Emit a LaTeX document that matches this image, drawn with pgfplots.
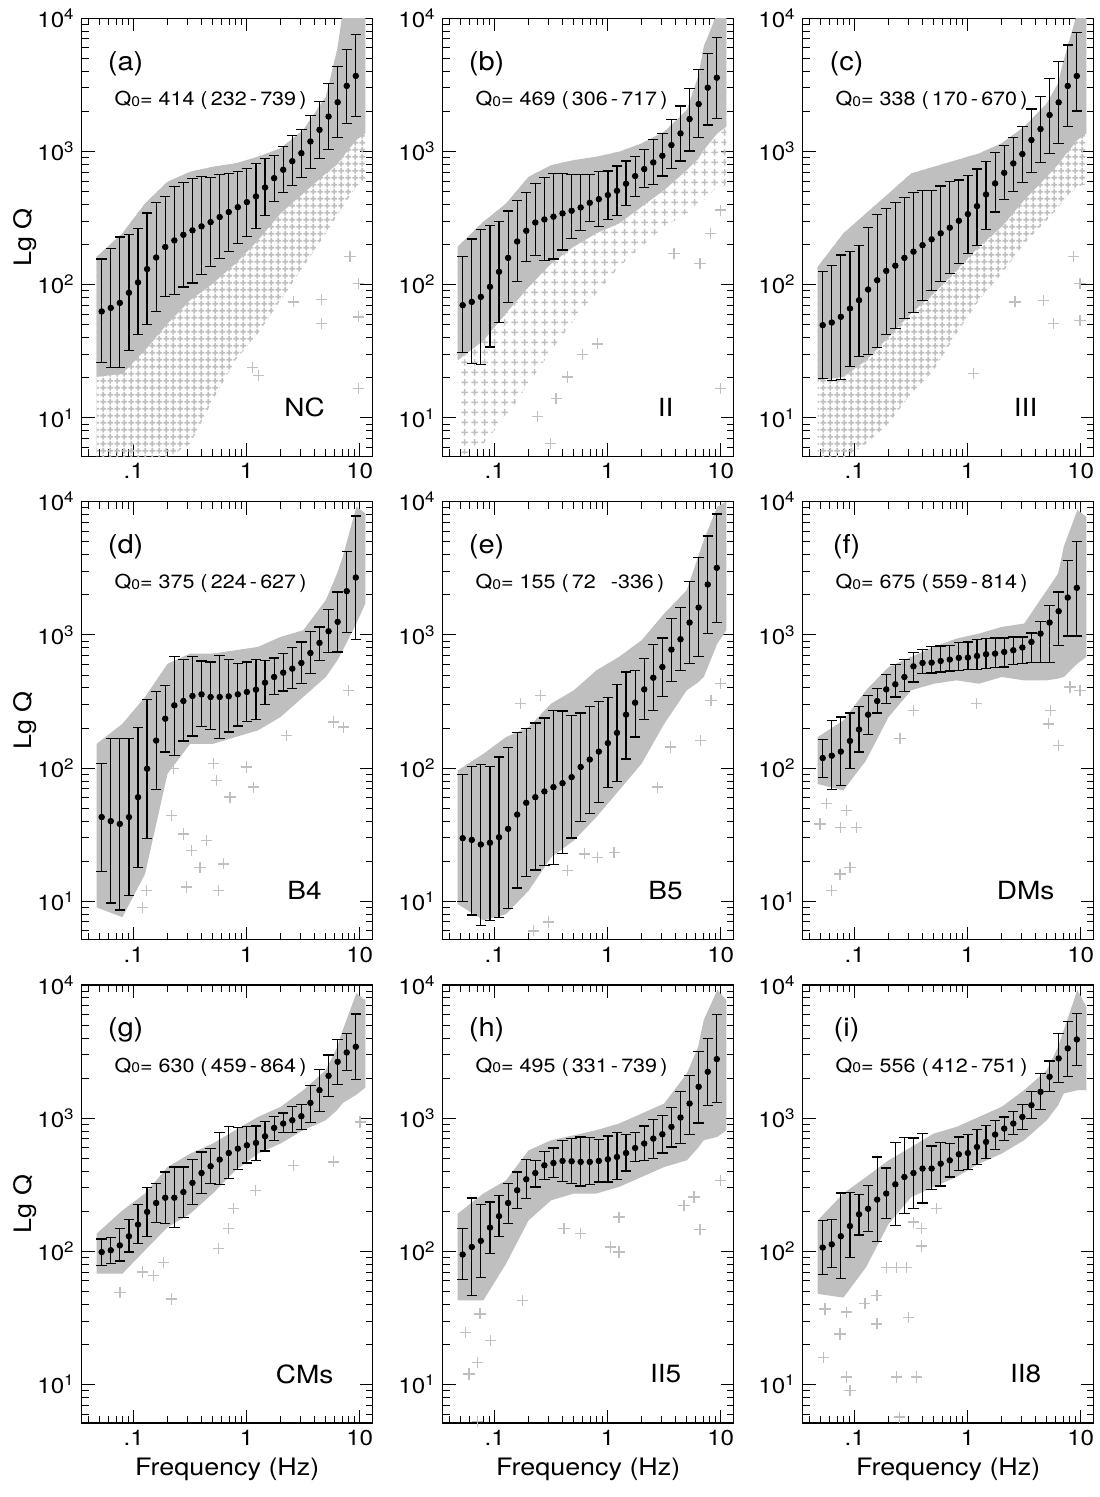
\documentclass[border=0pt]{standalone}
\usepackage{pgfplots}
\usepackage{pgfplotstable}
\pgfplotsset{compat=1.18}
\usetikzlibrary{patterns}
\usepackage{fontspec}
\setmainfont{TeX Gyre Heros}[FakeStretch=1.12]
\definecolor{cgray}{gray}{0.75}
\pgfdeclarepatternformonly{plusgrid}{\pgfpointorigin}{\pgfpoint{3.6pt}{3.6pt}}{\pgfpoint{3.6pt}{3.6pt}}{%
  \pgfsetlinewidth{0.9pt}%
  \pgfpathmoveto{\pgfpoint{0.2pt}{1.8pt}}\pgfpathlineto{\pgfpoint{3.4pt}{1.8pt}}%
  \pgfpathmoveto{\pgfpoint{1.8pt}{0.2pt}}\pgfpathlineto{\pgfpoint{1.8pt}{3.4pt}}%
  \pgfusepath{stroke}}
\pgfdeclarepatternformonly{plussparse}{\pgfpointorigin}{\pgfpoint{5pt}{5pt}}{\pgfpoint{5pt}{5pt}}{%
  \pgfsetlinewidth{0.8pt}%
  \pgfpathmoveto{\pgfpoint{0.7pt}{2.5pt}}\pgfpathlineto{\pgfpoint{4.3pt}{2.5pt}}%
  \pgfpathmoveto{\pgfpoint{2.5pt}{0.7pt}}\pgfpathlineto{\pgfpoint{2.5pt}{4.3pt}}%
  \pgfusepath{stroke}}

\pgfplotstableread{
f m lo hi
0.0521 63 26 156
0.0627 67 24 188
0.0754 73 24 228
0.0908 87 32 237
0.1092 104 42 266
0.1314 131 50 345
0.1580 160 63 415
0.1902 192 82 460
0.2288 215 84 546
0.2752 237 96 589
0.3311 256 103 631
0.3984 274 119 649
0.4794 295 137 642
0.5767 322 158 668
0.6939 351 178 688
0.8348 382 205 708
1.004 417 230 750
1.208 460 266 808
1.453 537 329 891
1.748 631 422 933
2.104 729 495 1090
2.531 846 553 1311
3.045 971 642 1471
3.664 1189 750 1851
4.408 1454 891 2371
5.303 1830 1041 3254
6.381 2344 1274 4339
7.677 3108 1632 5855
9.235 3694 1830 7586
}\meanA
\pgfplotstableread{
f m lo hi
0.0521 70.2 30.8 162
0.0627 74.3 25.6 220
0.0754 81 25.1 260
0.0908 96.4 34.1 277
0.1092 125 51.8 300
0.1314 159 73.2 357
0.1580 211 106 426
0.1902 254 150 493
0.2288 293 165 579
0.2752 309 153 635
0.3311 324 156 681
0.3984 343 182 684
0.4794 359 222 676
0.5767 380 257 676
0.6939 412 297 676
0.8348 439 275 705
1.004 471 309 713
1.208 507 329 778
1.453 573 392 848
1.748 654 457 914
2.104 738 535 1037
2.531 828 566 1233
3.045 929 654 1367
3.664 1117 746 1742
4.408 1367 848 2194
5.303 1753 1007 2979
6.381 2271 1268 4137
7.677 3013 1581 5459
9.235 3582 1774 7194
}\meanB
\pgfplotstableread{
f m lo hi
0.0521 49.7 19.7 125
0.0627 52 19.2 140
0.0754 57.4 19.4 167
0.0908 66.3 24.4 177
0.1092 76.5 29 198
0.1314 92 30 269
0.1580 108 34 337
0.1902 127 42.3 374
0.2288 139 46.9 412
0.2752 159 55.8 449
0.3311 177 61.5 490
0.3984 198 75.7 507
0.4794 219 91 513
0.5767 243 106 550
0.6939 268 121 593
0.8348 302 144 610
1.004 339 171 665
1.208 389 198 738
1.453 476 261 838
1.748 576 352 979
2.104 692 436 1105
2.531 814 498 1268
3.045 957 582 1535
3.664 1219 697 2084
4.408 1475 828 2578
5.303 1880 968 3541
6.381 2339 1151 4721
7.677 3105 1535 6303
9.235 3690 2014 7800
}\meanC
\pgfplotstableread{
f m lo hi
0.0521 42.9 16.7 109
0.0627 40 9.7 166
0.0754 38.1 8.6 166
0.0908 42.9 11 166
0.1092 60.5 18 201
0.1314 98.9 29.8 328
0.1580 161 69 377
0.1902 235 132 419
0.2288 296 124 692
0.2752 319 160 656
0.3311 348 174 684
0.3984 358 206 638
0.4794 342 195 627
0.5767 342 168 703
0.6939 346 187 653
0.8348 358 207 608
1.004 373 224 627
1.208 388 232 653
1.453 438 299 646
1.748 483 358 672
2.104 521 379 724
2.531 558 395 804
3.045 616 430 885
3.664 732 512 1054
4.408 871 646 1148
5.303 1066 736 1549
6.381 1253 745 2103
7.677 2130 1042 4206
9.235 2697 927 7800
}\meanD
\pgfplotstableread{
f m lo hi
0.0521 29.8 10 89
0.0627 28.9 7.9 103
0.0754 26.7 6.6 107
0.0908 27.5 7.2 103
0.1092 30.3 7.6 121
0.1314 35 8.8 142
0.1580 44.8 12.6 185
0.1902 54.9 15.4 198
0.2288 60.5 17.2 218
0.2752 66.8 18.5 238
0.3311 72 18.8 272
0.3984 77.1 22.7 268
0.4794 85.5 29.9 249
0.5767 102 39.7 259
0.6939 116 45.9 291
0.8348 133 55.5 317
1.004 154 72 338
1.208 184 79.4 423
1.453 252 117 527
1.748 310 171 542
2.104 390 231 664
2.531 477 272 846
3.045 574 346 949
3.664 776 449 1327
4.408 928 542 1597
5.303 1238 608 2502
6.381 1606 692 3795
7.677 2390 1024 5521
9.235 3189 1238 8080
}\meanE
\pgfplotstableread{
f m lo hi
0.0521 119 85.5 163
0.0627 124 68.7 228
0.0754 133 74.1 242
0.0908 160 100 259
0.1092 195 132 291
0.1314 252 178 352
0.1580 319 259 395
0.1902 390 305 503
0.2288 426 342 598
0.2752 483 377 653
0.3311 581 443 733
0.3984 616 512 776
0.4794 619 518 813
0.5767 637 527 826
0.6939 653 536 836
0.8348 672 542 871
1.004 676 548 885
1.208 695 548 922
1.453 716 558 938
1.748 724 568 949
2.104 745 574 949
2.531 767 601 966
3.045 804 608 966
3.664 885 619 1035
4.408 1023 619 1268
5.303 1238 619 1653
6.381 1507 836 2103
7.677 1908 982 3638
9.235 2256 982 5000
}\meanF
\pgfplotstableread{
f m lo hi
0.0521 98.9 78.5 124
0.0627 102 80.8 128
0.0754 111 84.6 148
0.0908 130 98.9 173
0.1092 159 114 224
0.1314 198 130 301
0.1580 231 164 323
0.1902 253 161 395
0.2288 253 152 430
0.2752 279 181 430
0.3311 327 224 489
0.3984 388 272 558
0.4794 436 323 591
0.5767 489 319 776
0.6939 548 352 861
0.8348 591 414 846
1.004 626 461 871
1.208 653 483 875
1.453 732 568 949
1.748 846 676 1035
2.104 912 776 1096
2.531 966 776 1217
3.045 1035 826 1273
3.664 1304 927 1770
4.408 1624 1117 2323
5.303 2081 1463 2978
6.381 2652 1803 3900
7.677 3118 2297 4335
9.235 3438 1955 6050
}\meanG
\pgfplotstableread{
f m lo hi
0.0521 94.8 61.5 148
0.0627 108 46.7 252
0.0754 120 63.4 226
0.0908 151 95.9 235
0.1092 184 130 264
0.1314 231 163 323
0.1580 288 209 395
0.1902 348 249 489
0.2288 388 305 483
0.2752 443 346 565
0.3311 461 358 598
0.3984 478 336 676
0.4794 475 323 703
0.5767 470 310 724
0.6939 470 319 716
0.8348 478 332 692
1.004 492 332 736
1.208 512 346 776
1.453 548 402 758
1.748 598 470 780
2.104 646 483 875
2.531 703 498 977
3.045 758 548 1054
3.664 861 608 1197
4.408 1012 646 1596
5.303 1289 758 2103
6.381 1722 922 3190
7.677 2230 1253 3971
9.235 2779 1304 6010
}\meanH
\pgfplotstableread{
f m lo hi
0.0521 107 66.8 171
0.0627 113 75.4 173
0.0754 130 63 275
0.0908 155 90.6 276
0.1092 190 133 268
0.1314 209 142 313
0.1580 245 119 512
0.1902 272 176 423
0.2288 319 157 653
0.2752 362 192 716
0.3311 388 209 711
0.3984 419 231 767
0.4794 419 292 619
0.5767 456 310 656
0.6939 483 362 646
0.8348 536 406 724
1.004 548 414 754
1.208 608 451 822
1.453 664 498 885
1.748 754 585 966
2.104 836 684 1023
2.531 912 758 1117
3.045 1023 826 1273
3.664 1253 993 1596
4.408 1578 1169 2167
5.303 2047 1578 2686
6.381 2812 1845 4339
7.677 3344 2047 5353
9.235 3903 2502 6124
}\meanI

\pgfplotsset{
  every axis/.append style={
    scale only axis,
    width=145.5pt, height=219pt,
    xmin=0.03467, xmax=13.03, ymin=5.15, ymax=10000,
    xtick={0.1,1,10}, xticklabels={.1,1,10},
    ytick={10,100,1000,10000},
    yticklabels={10\textsuperscript{1},10\textsuperscript{2},10\textsuperscript{3},10\textsuperscript{4}},
    minor xtick={0.04,0.05,0.06,0.07,0.08,0.09,0.2,0.3,0.4,0.5,0.6,0.7,0.8,0.9,2,3,4,5,6,7,8,9},
    minor ytick={6,7,8,9,20,30,40,50,60,70,80,90,200,300,400,500,600,700,800,900,2000,3000,4000,5000,6000,7000,8000,9000},
    major tick length=6.5pt, minor tick length=3.5pt,
    tick align=inside,
    tick style={black, line width=0.5pt},
    axis line style={line width=0.6pt},
    tick label style={font=\fontsize{10.8}{12}\selectfont},
    xlabel style={font=\fontsize{12}{14}\selectfont, at={(axis description cs:0.5,-0.105)}, anchor=center},
    ylabel style={font=\fontsize{12}{14}\selectfont, at={(axis description cs:-0.196,0.5)}, anchor=center},
  },
}
\newcommand{\meanplot}[1]{\addplot[black, only marks, mark=*, mark size=1.4pt,
    error bars/.cd, y dir=both, y explicit,
    error bar style={line width=0.6pt, black},
    error mark options={rotate=90, black, mark size=2.6pt, line width=0.6pt}]
  table[x=f, y=m, y error plus expr=\thisrow{hi}-\thisrow{m}, y error minus expr=\thisrow{m}-\thisrow{lo}] {#1};}
\newcommand{\cloudpts}{\addplot[only marks, mark=+, mark size=2.8pt, color=cgray, mark options={line width=0.7pt}] coordinates}
\newcommand{\panellabels}[3]{%
  \node[font=\fontsize{13}{14}\selectfont, anchor=center] at (rel axis cs:0.151,0.897) {#1};
  \node[font=\fontsize{9.6}{11}\selectfont, anchor=west] at (rel axis cs:0.089,0.813) {#2};
  \node[font=\fontsize{12.5}{14}\selectfont, anchor=center] at (rel axis cs:0.766,0.112) {#3};}
\newcommand{\Qz}{Q{\fontsize{7}{7}\selectfont\raisebox{-0.4pt}{0}}=}

\begin{document}
\begin{tikzpicture}
\useasboundingbox (0,0) rectangle (549.5pt,-748.5pt);

% ---------------- (a) ----------------
\begin{loglogaxis}[at={(40.85pt,-9.15pt)}, anchor=north west, ylabel={Lg Q}]
\addplot[pattern=plusgrid, pattern color=cgray, draw=none] coordinates {(0.047,162) (0.0794,243) (0.1259,407) (0.1995,593) (0.3162,705) (0.5012,769) (0.7943,814) (1.259,914) (1.995,1056) (3.162,1449) (5.012,2576) (6.31,5780) (7.079,11000) (9.333,11000) (11.22,11000) (11.22,610) (9.333,543) (7.079,385) (6.31,330) (5.012,243) (3.162,136) (1.995,76.5) (1.259,43) (0.7943,27.1) (0.5012,13.6) (0.3162,6.4) (0.1995,5) (0.1259,5) (0.0794,5) (0.047,5)};
\addplot[fill=cgray, draw=none] coordinates {(0.047,162) (0.0794,243) (0.1259,407) (0.1995,593) (0.3162,705) (0.5012,769) (0.7943,814) (1.259,914) (1.995,1056) (3.162,1449) (5.012,2576) (6.31,5780) (7.079,11000) (9.333,11000) (11.22,11000) (11.22,1367) (9.333,1218) (7.079,912) (6.31,800) (5.012,684) (3.162,484) (1.995,343) (1.259,216) (0.7943,144) (0.5012,102) (0.3162,76.5) (0.1995,51.1) (0.1259,32.2) (0.0794,21.5) (0.047,20.3)};
\cloudpts {(2.59,74.3) (4.61,77.8) (4.61,51) (9.73,102) (9.73,57.4) (9.73,16.6) (1.27,20.9) (8.2,162) (1.12,24)};
\meanplot{\meanA}
\panellabels{(a)}{\Qz\ 414 (\,232\,-\,739\,)}{NC}
\end{loglogaxis}

% ---------------- (b) ----------------
\begin{loglogaxis}[at={(221.35pt,-9.15pt)}, anchor=north west]
\addplot[pattern=plussparse, pattern color=cgray, draw=none] coordinates {(0.047,193) (0.0794,297) (0.1259,407) (0.1995,646) (0.3162,790) (0.5012,862) (0.7943,914) (1.259,996) (1.995,1151) (3.162,1408) (5.012,2047) (6.31,3648) (7.079,6126) (9.333,11000) (11.22,11000) (11.22,543) (9.333,543) (7.079,432) (6.31,400) (5.012,343) (3.162,272) (1.995,193) (1.259,136) (0.7943,86) (0.5012,54) (0.3162,32) (0.1995,18.1) (0.1259,10.2) (0.0794,6.4) (0.047,5)};
\addplot[fill=cgray, draw=none] coordinates {(0.047,193) (0.0794,297) (0.1259,407) (0.1995,646) (0.3162,790) (0.5012,862) (0.7943,914) (1.259,996) (1.995,1151) (3.162,1408) (5.012,2047) (6.31,3648) (7.079,6126) (9.333,11000) (11.22,11000) (11.22,1535) (9.333,1367) (7.079,1025) (6.31,880) (5.012,725) (3.162,513) (1.995,385) (1.259,288) (0.7943,243) (0.5012,193) (0.3162,144) (0.1995,96) (0.1259,61) (0.0794,38) (0.047,27)};
\cloudpts {(6.56,144) (3.86,172) (10.0,16.6) (8.1,243) (0.81,36) (0.44,20.3) (0.313,6.4) (0.239,10.2) (10,363) (0.6,30) (0.35,14)};
\meanplot{\meanB}
\panellabels{(b)}{\Qz\ 469 (\,306\,-\,717\,)}{II}
\end{loglogaxis}

% ---------------- (c) ----------------
\begin{loglogaxis}[at={(401.35pt,-9.15pt)}, anchor=north west]
\addplot[pattern=plusgrid, pattern color=cgray, draw=none] coordinates {(0.047,136) (0.0794,243) (0.1259,343) (0.1995,484) (0.3162,684) (0.5012,769) (0.7943,862) (1.259,968) (1.995,1151) (3.162,1535) (5.012,2297) (6.31,3250) (7.079,4862) (9.333,11000) (11.22,11000) (11.22,570) (9.333,543) (7.079,432) (6.31,380) (5.012,305) (3.162,204) (1.995,121) (1.259,76.5) (0.7943,43) (0.5012,22.8) (0.3162,15.2) (0.1995,9.1) (0.1259,6.4) (0.0794,5) (0.047,5)};
\addplot[fill=cgray, draw=none] coordinates {(0.047,136) (0.0794,243) (0.1259,343) (0.1995,484) (0.3162,684) (0.5012,769) (0.7943,862) (1.259,968) (1.995,1151) (3.162,1535) (5.012,2297) (6.31,3250) (7.079,4862) (9.333,11000) (11.22,11000) (11.22,1367) (9.333,1218) (7.079,912) (6.31,800) (5.012,646) (3.162,432) (1.995,272) (1.259,193) (0.7943,128) (0.5012,86) (0.3162,61) (0.1995,40.5) (0.1259,27) (0.0794,20.3) (0.047,19.2)};
\cloudpts {(2.62,74.3) (4.67,76.5) (5.73,51) (9.86,54) (9.86,102) (8.6,162) (1.12,21.5)};
\meanplot{\meanC}
\panellabels{(c)}{\Qz\ 338 (\,170\,-\,670\,)}{III}
\end{loglogaxis}

% ---------------- (d) ----------------
\begin{loglogaxis}[at={(40.85pt,-250.85pt)}, anchor=north west, ylabel={Lg Q}]
\addplot[fill=cgray, draw=none] coordinates {(0.047,152) (0.0794,215) (0.1259,342) (0.1995,608) (0.3162,724) (0.5012,724) (0.7943,767) (1.259,813) (1.995,966) (3.162,1084) (5.012,1824) (6.31,2900) (7.079,3853) (9.333,9170) (11.22,8170) (11.22,1722) (9.333,1217) (7.079,767) (6.31,640) (5.012,483) (3.162,342) (1.995,242) (1.259,192) (0.7943,171) (0.5012,152) (0.3162,152) (0.1995,91) (0.1259,16) (0.0794,7.6) (0.047,9.0)};
\cloudpts {(0.224,99) (0.507,108) (0.543,81) (0.712,60.5) (1.0,102) (1.15,72) (0.217,44) (0.275,32) (0.326,24) (0.443,28.6) (0.386,18) (0.622,19.1) (0.294,12.8) (0.561,12) (7.94,384) (5.85,222) (7.17,203) (2.26,176) (0.13,12) (0.12,9)};
\meanplot{\meanD}
\panellabels{(d)}{\Qz\ 375 (\,224\,-\,627\,)}{B4}
\end{loglogaxis}

% ---------------- (e) ----------------
\begin{loglogaxis}[at={(221.35pt,-250.85pt)}, anchor=north west]
\addplot[fill=cgray, draw=none] coordinates {(0.047,96) (0.0794,128) (0.1259,171) (0.1995,203) (0.3162,305) (0.5012,384) (0.7943,542) (1.259,684) (1.995,912) (3.162,1446) (5.012,2167) (6.31,3853) (7.079,5150) (9.333,9170) (11.22,10000) (11.22,1084) (9.333,861) (7.079,483) (6.31,440) (5.012,384) (3.162,215) (1.995,108) (1.259,68) (0.7943,42.9) (0.5012,28.6) (0.3162,21.4) (0.1995,12) (0.1259,8.0) (0.0794,7.2) (0.047,9.55)};
\cloudpts {(0.44,17) (0.626,22.7) (0.81,21.4) (1.14,23.3) (2.75,72) (3.61,144) (6.65,161) (10,430) (8.2,323) (0.255,351) (0.17,305) (0.3,7) (0.22,6)};
\meanplot{\meanE}
\panellabels{(e)}{\Qz\ 155 (\,72\ \ \,-336\,)}{B5}
\end{loglogaxis}

% ---------------- (f) ----------------
\begin{loglogaxis}[at={(401.35pt,-250.85pt)}, anchor=north west]
\addplot[fill=cgray, draw=none] coordinates {(0.047,171) (0.0794,228) (0.1259,384) (0.1995,574) (0.3162,684) (0.5012,813) (0.7943,938) (1.259,1023) (1.995,1148) (3.162,1217) (5.012,2167) (6.31,2892) (7.079,4592) (9.333,8650) (11.22,7710) (11.22,684) (9.333,608) (7.079,483) (6.31,470) (5.012,456) (3.162,456) (1.995,483) (1.259,430) (0.7943,456) (0.5012,430) (0.3162,384) (0.1995,242) (0.1259,114) (0.0794,68) (0.047,76)};
\cloudpts {(0.0626,12) (0.074,16) (0.091,18) (0.0493,38) (0.104,36) (0.0565,54) (0.252,166) (0.33,272) (1.2,305) (5.17,215) (6.34,148) (5.4,272) (9.86,384) (8.05,406) (0.075,36) (0.085,48)};
\meanplot{\meanF}
\panellabels{(f)}{\Qz\ 675 (\,559\,-\,814\,)}{DMs}
\end{loglogaxis}

% ---------------- (g) ----------------
\begin{loglogaxis}[at={(40.85pt,-492.5pt)}, anchor=north west, ylabel={Lg Q}, xlabel={Frequency (Hz)}]
\addplot[fill=cgray, draw=none] coordinates {(0.047,136) (0.0794,203) (0.1259,272) (0.1995,430) (0.3162,542) (0.5012,646) (0.7943,813) (1.259,1023) (1.995,1217) (3.162,1623) (5.012,2297) (6.31,3400) (7.079,4592) (9.333,8650) (11.22,7710) (11.22,1700) (9.333,1500) (7.079,1300) (6.31,1150) (5.012,966) (3.162,813) (1.995,646) (1.259,542) (0.7943,406) (0.5012,272) (0.3162,192) (0.1995,152) (0.1259,102) (0.0794,68) (0.047,68)};
\cloudpts {(0.0757,49.4) (0.217,44) (0.183,83) (0.561,105) (0.689,148) (0.762,209) (1.19,288) (2.59,443) (5.85,470) (10.1,938) (0.12,70) (0.15,66)};
\meanplot{\meanG}
\panellabels{(g)}{\Qz\ 630 (\,459\,-\,864\,)}{CMs}
\end{loglogaxis}

% ---------------- (h) ----------------
\begin{loglogaxis}[at={(221.35pt,-492.5pt)}, anchor=north west, xlabel={Frequency (Hz)}]
\addplot[fill=cgray, draw=none] coordinates {(0.047,192) (0.0794,272) (0.1259,342) (0.1995,574) (0.3162,684) (0.5012,745) (0.7943,813) (1.259,912) (1.995,1084) (3.162,1289) (5.012,2167) (6.31,3438) (7.079,5460) (9.333,9170) (11.22,7710) (11.22,813) (9.333,724) (7.079,684) (6.31,600) (5.012,483) (3.162,430) (1.995,362) (1.259,305) (0.7943,272) (0.5012,272) (0.3162,242) (0.1995,171) (0.1259,80.7) (0.0794,42.9) (0.047,42.9)};
\cloudpts {(0.0553,24.7) (0.0703,14.7) (0.0593,12) (0.074,34) (0.0922,21.4) (0.176,42.9) (0.411,148) (0.577,136) (1.06,108) (1.26,99) (1.26,181) (4.74,222) (5.81,256) (6.56,146) (10,342) (0.0703,5.3)};
\meanplot{\meanH}
\panellabels{(h)}{\Qz\ 495 (\,331\,-\,739\,)}{II5}
\end{loglogaxis}

% ---------------- (i) ----------------
\begin{loglogaxis}[at={(401.35pt,-492.5pt)}, anchor=north west, xlabel={Frequency (Hz)}]
\addplot[fill=cgray, draw=none] coordinates {(0.047,171) (0.0794,272) (0.1259,362) (0.1995,483) (0.3162,608) (0.5012,767) (0.7943,861) (1.259,1023) (1.995,1217) (3.162,1624) (5.012,2297) (6.31,3438) (7.079,4592) (9.333,9170) (11.22,6870) (11.22,1623) (9.333,1623) (7.079,1532) (6.31,1250) (5.012,966) (3.162,684) (1.995,542) (1.259,456) (0.7943,362) (0.5012,305) (0.3162,256) (0.1995,161) (0.1259,76) (0.0794,45) (0.047,48)};
\cloudpts {(0.0528,16) (0.0742,24) (0.085,11.4) (0.091,9.0) (0.0546,37) (0.085,35) (0.123,40.5) (0.157,46.7) (0.157,28.6) (0.192,76) (0.235,76) (0.288,76) (0.299,32) (0.235,11.4) (0.354,11.4) (0.392,110) (0.392,148) (0.33,166) (0.532,209) (0.25,5.7)};
\meanplot{\meanI}
\panellabels{(i)}{\Qz\ 556 (\,412\,-\,751\,)}{II8}
\end{loglogaxis}
\end{tikzpicture}
\end{document}
